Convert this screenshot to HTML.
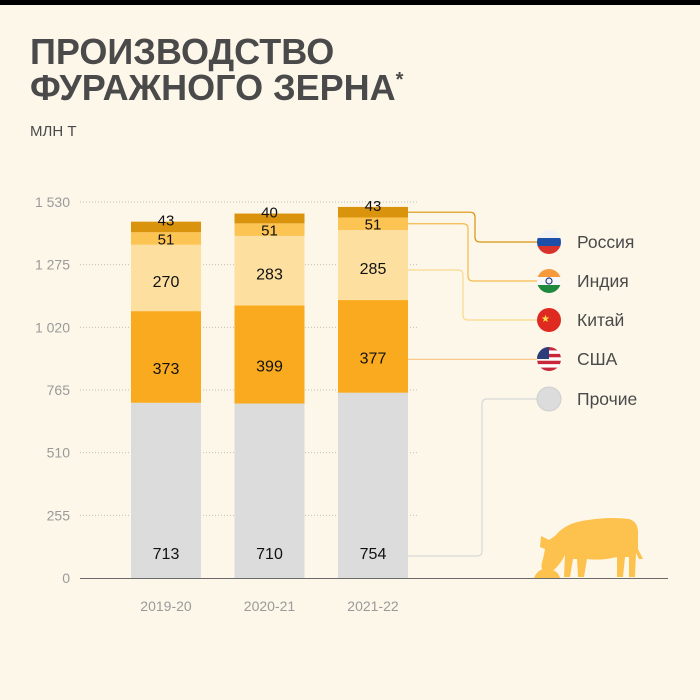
<!DOCTYPE html>
<html><head><meta charset="utf-8">
<style>
body{margin:0;width:700px;height:700px;overflow:hidden;background:#fdf7ea;font-family:"Liberation Sans",sans-serif}
svg{display:block}
</style></head><body>
<svg width="700" height="700" viewBox="0 0 700 700">
<rect width="700" height="700" fill="#fdf7ea"/>
<rect width="700" height="5" fill="#000"/>
<text x="30" y="64" font-size="36" font-weight="bold" fill="#4a4a4a">ПРОИЗВОДСТВО</text>
<text x="30" y="100" font-size="36" font-weight="bold" fill="#4a4a4a">ФУРАЖНОГО ЗЕРНА<tspan font-size="20" dy="-14">*</tspan></text>
<text x="30" y="136" font-size="15" fill="#4a4a4a">МЛН Т</text>
<g id="grid"></g>
<g id="bars"></g>
<g id="legend"></g>
<line x1="80" y1="578.5" x2="668" y2="578.5" stroke="#6a6a6a" stroke-width="1"/>
<g fill="#fdc24d">
<path d="M534 578 q4-10 14-9 q10 1 12 9z"/>
<path d="M541 536 l8 4 6-4 q8-10 22-14 q28-6 52-3 q8 2 9 12 l0 18 5 10 -4 0 -3-6 -1 24 -6 0 0-20 -4 0 -2 20 -6 0 0-20 q-16 4-30 2 l-3 18 -6 0 -1-18 -4 0 -3 18 -6 0 1-22 q-4 8-10 14 q-8 6-12 2 q-3-4 0-12 l2-10 -5-2 z"/>
</g>
</svg>
<script>
const categories=["2019-20","2020-21","2021-22"];
const others=[713,710,754];
const usa=[373,399,377];
const china=[270,283,285];
const india=[51,51,51];
const russia=[43,40,43];
const ticks=[0,255,510,765,1020,1275,1530];
const tickLabels=["0","255","510","765","1 020","1 275","1 530"];
const legendNames=["Россия","Индия","Китай","США","Прочие"];
const NS="http://www.w3.org/2000/svg";
const y0=578,yMax=1530,pxH=376;
const y=v=>y0-v/yMax*pxH;
const xc=i=>166+i*103.5;
const bw=70;
function mk(tag,attrs,parent){const e=document.createElementNS(NS,tag);for(const k in attrs)e.setAttribute(k,attrs[k]);parent.appendChild(e);return e;}
const grid=document.getElementById('grid');
ticks.forEach((t,i)=>{
 if(t>0){const l=mk('line',{x1:80,x2:418,y1:y(t),y2:y(t),stroke:'#c8c2b4','stroke-dasharray':'1 2'},grid);
 
 }
 const tx=mk('text',{x:70,y:y(t)+5,'text-anchor':'end','font-size':14,fill:'#9a9a9a'},grid);
 tx.textContent=tickLabels[i];
 
 
});
const series=[others,usa,china,india,russia];
const colors=["#dcdcdc","#f9aa1e","#fde0a0","#fcc453","#d9930d"];
const snames=["others","usa","china","india","russia"];
const labOff=[0,11,3,0,0];
const bars=document.getElementById('bars');
categories.forEach((c,i)=>{
 let acc=0;
 series.forEach((s,k)=>{
  const v=s[i];
  const r=mk('rect',{x:xc(i)-bw/2,y:y(acc+v),width:bw,height:y(acc)-y(acc+v),fill:colors[k]},bars);
  
  
  let ly=(y(acc)+y(acc+v))/2+6+labOff[k];
  if(k===0) ly=y0-19;
  if(k===4) ly=y(acc+v)+4;
  const t=mk('text',{x:xc(i),y:ly,'text-anchor':'middle','font-size':k>=3?15:16,fill:'#111'},bars);
  t.textContent=v;
  
  
  acc+=v;
 });
 const xl=mk('text',{x:xc(i),y:611,'text-anchor':'middle','font-size':14,fill:'#9a9a9a'},bars);
 xl.textContent=c;
 
 
});
const lg=document.getElementById('legend');
const ly=[242,281,320,359,399];
const last=categories.length-1;
const right=xc(last)+bw/2;
const cum=[];let a=0;series.forEach(s=>{cum.push(a);a+=s[last];});
const srcY=[y(cum[4]+russia[last]*0.5),y(cum[3]+india[last]*0.5),y(cum[2]+china[last]*0.5)+5,y(cum[1]+usa[last]*0.5)+13,y0-22];
const bendX=[475,468,463,470,482];
const lc=["#d9930d","#f4b94a","#fbd98c","#f8c98a","#d8d8d8"];
legendNames.forEach((n,j)=>{
 let d;
 if(Math.abs(ly[j]-srcY[j])<6) d=`M${right} ${srcY[j]} H537`;
 else { const s=ly[j]>srcY[j]?1:-1;
 d=`M${right} ${srcY[j]} H${bendX[j]-5} Q${bendX[j]} ${srcY[j]} ${bendX[j]} ${srcY[j]+5*s} V${ly[j]-5*s} Q${bendX[j]} ${ly[j]} ${bendX[j]+5} ${ly[j]} H537`;}
 const p=mk('path',{d:d,fill:'none',stroke:lc[j],'stroke-width':1.2},lg);
 
 
});
const cx=549,r=12;
function flag(j,stripes){
 const g=mk('g',{},lg);
 
 
 const cp=mk('clipPath',{id:'c'+j},g);mk('circle',{cx:cx,cy:ly[j],r:r},cp);
 const gg=mk('g',{'clip-path':'url(#c'+j+')'},g);
 stripes.forEach((s,i)=>mk('rect',{x:cx-r,y:ly[j]-r+i*2*r/stripes.length,width:2*r,height:2*r/stripes.length+0.5,fill:s},gg));
 return gg;
}
flag(0,["#f2f2f2","#1c4fa8","#d8322d"]);
const ind=flag(1,["#f79a3c","#f7f7f7","#208a3c"]);mk('circle',{cx:cx,cy:ly[1],r:3,fill:'none',stroke:'#243b8c','stroke-width':1.2},ind);
const cn=flag(2,["#de2a21"]);const st=mk('text',{x:cx-8,y:ly[2]+2,'font-size':10,fill:'#fde04a'},cn);st.textContent="★";
const us=flag(3,["#c8283a","#fff","#c8283a","#fff","#c8283a","#fff","#c8283a"]);mk('rect',{x:cx-r,y:ly[3]-r,width:12,height:12,fill:'#2c3d7c'},us);
const g4=mk('circle',{cx:cx,cy:ly[4],r:r,fill:'#dcdcdc',stroke:'#cfcfcf'},lg);


legendNames.forEach((n,j)=>{
 const t=mk('text',{x:577,y:ly[j]+6,'font-size':17.5,fill:'#4a4a4a'},lg);
 t.textContent=n;
 
 
});
</script>
</body></html>
